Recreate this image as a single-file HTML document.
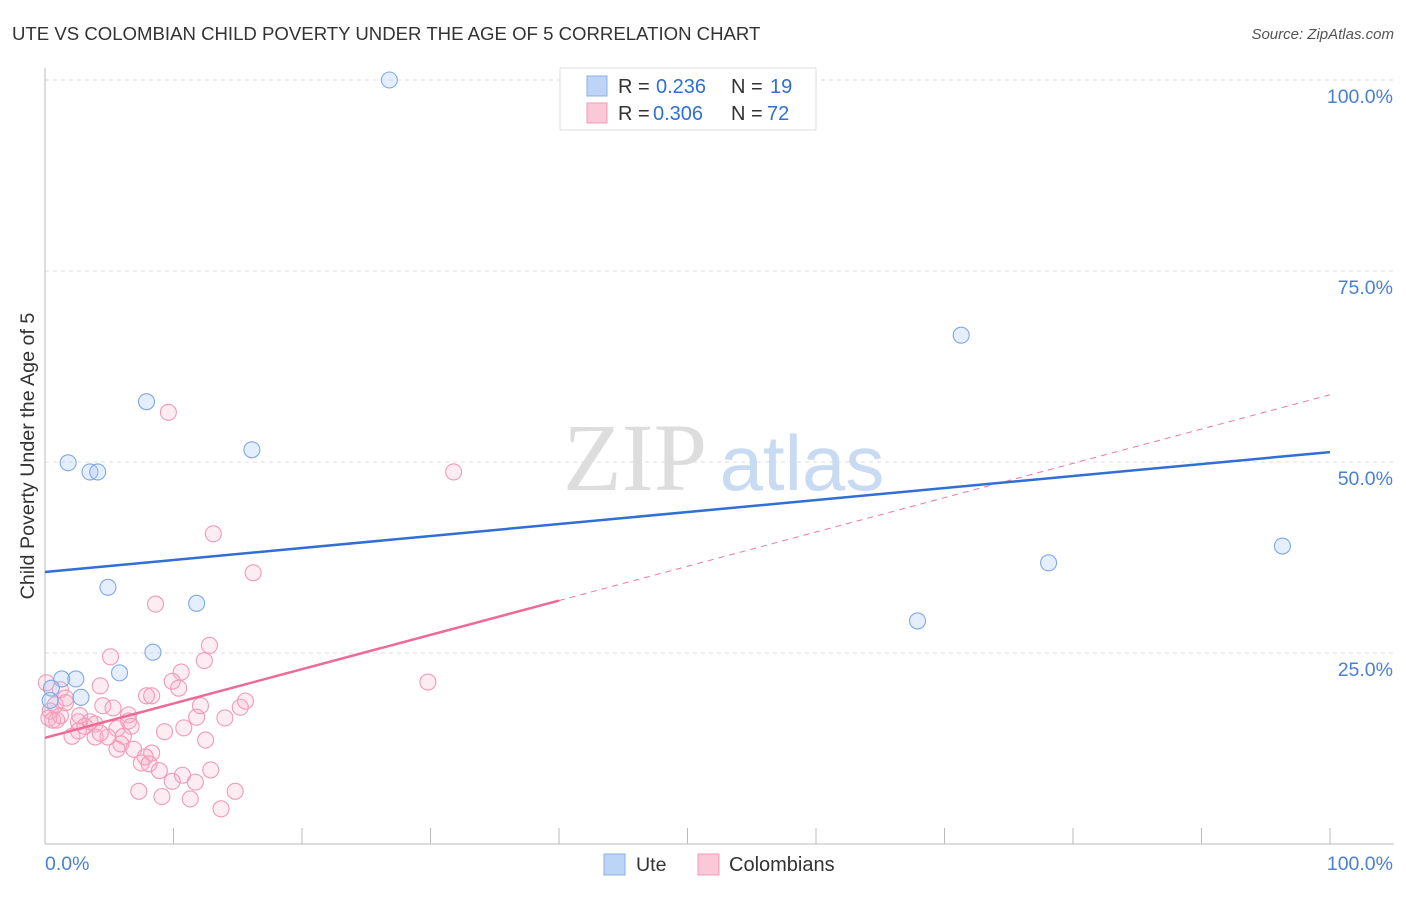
<!DOCTYPE html>
<html><head><meta charset="utf-8"><style>
body{margin:0;background:#fff;font-family:"Liberation Sans",sans-serif;}
svg text{font-family:"Liberation Sans",sans-serif;}
</style></head><body>
<svg width="1406" height="892" xmlns="http://www.w3.org/2000/svg">
<text x="12" y="40" font-size="18.6" fill="#333">UTE VS COLOMBIAN CHILD POVERTY UNDER THE AGE OF 5 CORRELATION CHART</text>
<text x="1394" y="39" font-size="15" fill="#555" font-style="italic" text-anchor="end">Source: ZipAtlas.com</text>
<g id="grid"></g>
<g>
<text x="635" y="490" font-size="96" fill="#ddd" text-anchor="middle" style="font-family:'Liberation Serif',serif">ZIP</text>
<text x="802" y="490" font-size="78" fill="#c9daf3" text-anchor="middle">atlas</text>
</g>
<line x1="45" y1="68" x2="45" y2="844" stroke="#bbb"/>
<line x1="45" y1="844" x2="1394" y2="844" stroke="#bbb"/>
<g id="xticks"></g>
<g id="ylabels"></g>
<text x="45" y="870" font-size="19.5" fill="#4a7fd4">0.0%</text>
<text x="1393" y="870" font-size="19.5" fill="#4a7fd4" text-anchor="end">100.0%</text>
<text transform="translate(34,456) rotate(-90)" font-size="19.7" fill="#333" text-anchor="middle">Child Poverty Under the Age of 5</text>
<g id="pink"></g>
<g id="blue"></g>
<g id="trends"></g>
<g>
<rect x="560" y="68" width="256" height="62" fill="#fff" stroke="#ddd"/>
<rect x="587" y="76" width="20" height="20" fill="#bcd4f5" stroke="#8ab0e8"/>
<rect x="587" y="103" width="20" height="20" fill="#fbc8d8" stroke="#f09ab5"/>
<text x="618" y="93" font-size="20" fill="#333">R = <tspan x="656" fill="#2f6fd6">0.236</tspan><tspan x="731">N = </tspan><tspan x="770" fill="#2f6fd6">19</tspan></text>
<text x="618" y="120" font-size="20" fill="#333">R = <tspan x="653" fill="#2f6fd6">0.306</tspan><tspan x="731">N = </tspan><tspan x="767" fill="#2f6fd6">72</tspan></text>
</g>
<g>
<rect x="604" y="854" width="21" height="21" fill="#bcd4f5" stroke="#8ab0e8"/>
<text x="636" y="871" font-size="19.6" fill="#333">Ute</text>
<rect x="698" y="854" width="21" height="21" fill="#fbc8d8" stroke="#f09ab5"/>
<text x="729" y="871" font-size="20" fill="#333">Colombians</text>
</g>
</svg>
<script>
const uteX=[26.8,7.9,1.8,3.5,4.1,16.1,4.9,11.8,8.4,5.8,1.3,2.4,2.8,0.5,0.4,71.3,67.9,78.1,96.3];
const uteY=[100,57.9,49.9,48.7,48.7,51.6,33.6,31.5,25.1,22.4,21.6,21.6,19.2,20.4,18.8,66.6,29.2,36.8,39.0];
const colX=[9.6,31.8,13.1,16.2,8.6,12.8,5.1,12.4,10.6,29.8,9.9,10.4,4.3,1.2,0.1,7.9,8.3,15.6,1.6,12.1,4.5,5.3,15.2,0.4,1.2,2.7,6.5,11.8,14.0,0.9,0.3,3.5,3.9,2.6,6.5,6.7,5.6,3.1,10.8,2.6,2.1,3.9,4.9,6.1,9.3,12.5,5.9,6.9,5.6,8.3,7.8,7.5,8.1,10.7,8.9,12.9,9.9,11.7,7.3,9.1,11.3,14.8,13.7,0.8,1.6,4.3,0.6];
const colY=[56.5,48.7,40.6,35.5,31.4,26.0,24.5,24.0,22.5,21.2,21.3,20.4,20.7,20.2,21.1,19.4,19.4,18.7,19.1,18.1,18.1,17.8,17.9,17.4,16.8,16.8,16.9,16.6,16.5,16.2,16.5,16.0,15.7,16.0,16.1,15.4,15.1,15.4,15.2,14.8,14.1,14.0,14.0,14.1,14.7,13.6,13.1,12.4,12.4,11.9,11.4,10.6,10.5,9.0,9.6,9.7,8.2,8.1,6.9,6.2,5.9,6.9,4.6,18.2,18.5,14.5,16.2];
const yTicks=[25,50,75,100];
const yTickLabels=["25.0%","50.0%","75.0%","100.0%"];
const xTicks=[0,10,20,30,40,50,60,70,80,90,100];
const uteTrend=[35.6,51.3];
const colTrend=[13.9,58.8];
const colSolidEnd=40;
const NS="http://www.w3.org/2000/svg";
const sx=v=>45+v*12.85, sy=v=>844-v*7.64;
function mk(t,a,p){const e=document.createElementNS(NS,t);for(const k in a)e.setAttribute(k,a[k]);p.appendChild(e);return e;}
const grid=document.getElementById('grid'),yl=document.getElementById('ylabels');
yTicks.forEach((t,i)=>{
 const l=mk('line',{x1:45,x2:1394,y1:sy(t),y2:sy(t),stroke:'#ddd','stroke-dasharray':'4,4'},grid);
 
 
 const tx=mk('text',{x:1393,y:sy(t)+23,'font-size':19.5,fill:'#4a7fd4','text-anchor':'end'},yl);
 tx.textContent=yTickLabels[i];
 
 
});
const xt=document.getElementById('xticks');
xTicks.forEach(t=>{
 const l=mk('line',{x1:sx(t),x2:sx(t),y1:828,y2:844,stroke:'#bbb'},xt);
 
 
});
const pg=document.getElementById('pink');
colX.forEach((x,i)=>{
 const c=mk('circle',{cx:sx(x),cy:sy(colY[i]),r:8,fill:'rgba(248,170,195,0.22)',stroke:'#f29ab6','stroke-width':1.1},pg);
 
 
});
const bg=document.getElementById('blue');
uteX.forEach((x,i)=>{
 const c=mk('circle',{cx:sx(x),cy:sy(uteY[i]),r:8,fill:'rgba(170,200,245,0.3)',stroke:'#7fa8e6','stroke-width':1.1},bg);
 
 
});
const tr=document.getElementById('trends');
const cAt=x=>colTrend[0]+(colTrend[1]-colTrend[0])*x/100;
let l1=mk('line',{x1:sx(colSolidEnd),y1:sy(cAt(colSolidEnd)),x2:sx(100),y2:sy(cAt(100)),stroke:'#ee7aa0','stroke-width':1,'stroke-dasharray':'6,5'},tr);


let l2=mk('line',{x1:sx(0),y1:sy(cAt(0)),x2:sx(colSolidEnd),y2:sy(cAt(colSolidEnd)),stroke:'#ec6b95','stroke-width':2.5},tr);


let l3=mk('line',{x1:sx(0),y1:sy(uteTrend[0]),x2:sx(100),y2:sy(uteTrend[1]),stroke:'#2f6fd6','stroke-width':2.5},tr);


</script>
</body></html>
